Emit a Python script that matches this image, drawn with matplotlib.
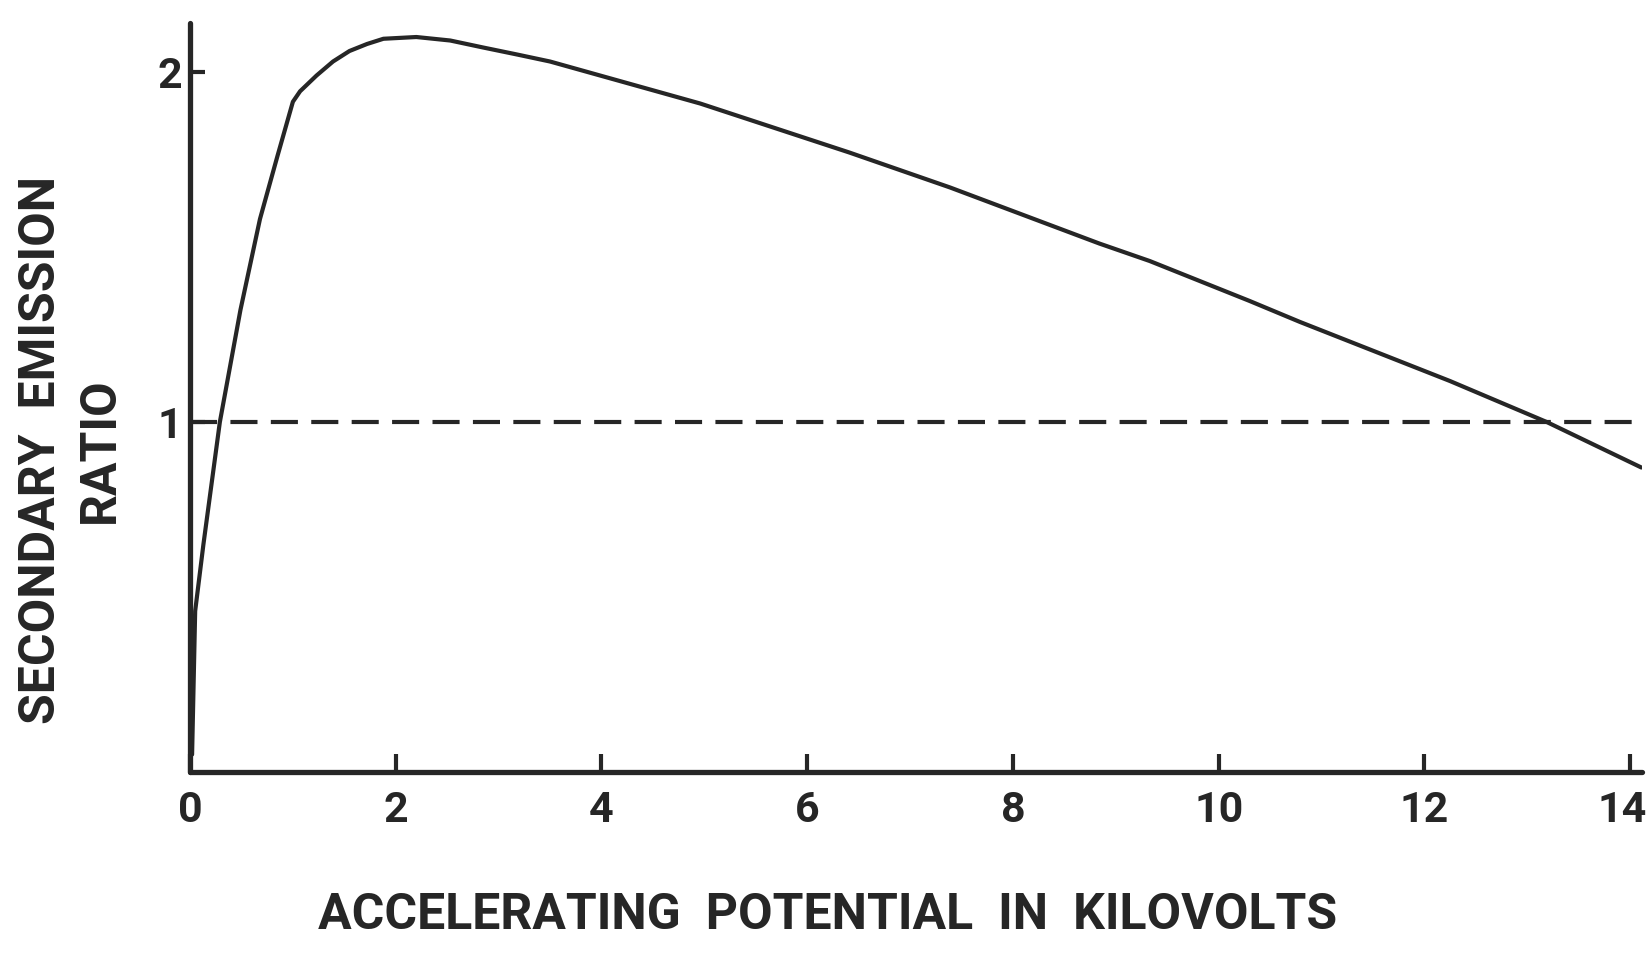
import numpy as np
import matplotlib
matplotlib.use("Agg")
import matplotlib.pyplot as plt
from matplotlib.transforms import ScaledTranslation

# curve
potential_kv = [0.02, 0.05, 0.13, 0.29, 0.49, 0.68, 0.85, 1.0, 1.07, 1.23, 1.39, 1.55,
                1.72, 1.88, 2.2, 2.53, 2.85, 3.18, 3.5, 4.96, 6.41, 7.39, 8.84, 9.33,
                10.30, 10.79, 12.25, 13.19, 14.11]
emission_ratio = [0.05, 0.46, 0.65, 1.0, 1.32, 1.58, 1.76, 1.915, 1.945, 1.99, 2.03,
                  2.06, 2.08, 2.095, 2.10, 2.09, 2.07, 2.05, 2.03, 1.91, 1.77, 1.67,
                  1.51, 1.46, 1.346, 1.286, 1.117, 1.0, 0.87]
unity_x = [0, 14.12]
unity_y = [1, 1]
x_ticks = [0, 2, 4, 6, 8, 10, 12, 14]
y_ticks = [1, 2]

INK = "#262626"
plt.rcParams["font.family"] = ["Roboto", "DejaVu Sans"]

fig = plt.figure(figsize=(16.51, 9.55), dpi=100)
ax = fig.add_axes([0.1151, 0.1916, 0.8797, 0.7843])

ax.plot(potential_kv, emission_ratio, color=INK, lw=3.0, solid_capstyle="round",
        solid_joinstyle="round")
ax.plot(unity_x, unity_y, color=INK, lw=3.0, dashes=(6.5, 3.2))

ax.set_xlim(0, 14.12)
ax.set_ylim(0, 2.14)
for side in ["top", "right"]:
    ax.spines[side].set_visible(False)
for side in ["left", "bottom"]:
    ax.spines[side].set_linewidth(3.8)
    ax.spines[side].set_color(INK)
    ax.spines[side].set_capstyle("round")

ax.set_xticks(x_ticks)
ax.set_xticklabels([str(t) for t in x_ticks])
ax.set_yticks(y_ticks)
ax.set_yticklabels([str(t) for t in y_ticks])
ax.tick_params(axis="x", direction="in", length=13, width=3, color=INK,
               labelsize=31, pad=13, labelcolor=INK)
ax.tick_params(axis="y", direction="in", length=11, width=3, color=INK,
               labelsize=31, pad=6, labelcolor=INK)
for lab in ax.get_xticklabels() + ax.get_yticklabels():
    lab.set_fontweight("bold")

# last label sits at the very edge of the sheet, nudge it inwards a little
last = ax.get_xticklabels()[-1]
last.set_transform(last.get_transform() + ScaledTranslation(-8 / 100, 0, fig.dpi_scale_trans))

ax.set_xlabel("ACCELERATING  POTENTIAL  IN  KILOVOLTS", fontsize=36,
              fontweight="bold", color=INK)
ax.xaxis.label.set(va="center", ha="center")
ax.xaxis.set_label_coords(0.4387, -0.192)

ax.set_ylabel("SECONDARY  EMISSION\nRATIO", fontsize=36, fontweight="bold",
              color=INK, linespacing=1.3)
ax.yaxis.label.set(va="center", ha="center", rotation_mode="default")
ax.yaxis.set_label_coords(-0.082, 0.43)

fig.savefig("out.png", dpi=100, facecolor="white")
